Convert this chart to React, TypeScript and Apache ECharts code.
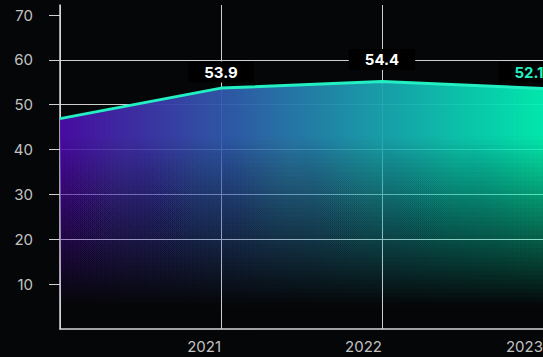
import React, { useEffect, useRef } from "react";
import * as echarts from "echarts";

// ---- data ----
const YEARS = ["2020", "2021", "2022", "2023"];
const VALUES = [46.9, 53.7, 55.2, 53.6];
const POINT_LABELS = ["", "53.9", "54.4", "52.1"];
const Y_TICKS = [10, 20, 30, 40, 50, 60, 70];

const FONT = "Inter, 'Noto Sans', sans-serif";
const LINE_COLOR = "#22f0c2";
const GRID_COLOR = "#cfcfcf";
const LABEL_COLOR = "#c2c2c2";

// vertical fade of the area: stacked translucent layers, each filling from
// its own baseline up to the line (style only, same data for every layer)
function fadeLayers() {
  const start = 5;
  const end = 46;
  const top = 0.95;
  const target = (v: number) => Math.max(0, Math.min(top, (v - start) / 40));
  const layers: { origin: number; opacity: number }[] = [];
  let prev = 0;
  for (let o = start; o <= end; o += 1) {
    const T = o === end ? top : target(o + 0.5);
    const a = 1 - (1 - T) / (1 - prev);
    layers.push({ origin: o, opacity: a });
    prev = T;
  }
  return layers;
}

export default function App() {
  const ref = useRef<HTMLDivElement>(null);

  useEffect(() => {
    if (!ref.current) return;
    const chart = echarts.init(ref.current, null, { renderer: "svg" });

    const areaGradient = new echarts.graphic.LinearGradient(0, 0, 1, 0, [
      { offset: 0, color: "#4a0ca8" },
      { offset: 1, color: "#00f2b4" },
    ]);

    const layerSeries = fadeLayers().map((l) => ({
      type: "line",
      data: VALUES,
      symbol: "none",
      showSymbol: false,
      silent: true,
      z: 2,
      lineStyle: { width: 0, opacity: 0 },
      areaStyle: { origin: l.origin, color: areaGradient, opacity: l.opacity },
      emphasis: { disabled: true },
    }));

    const lineSeries = {
      type: "line",
      z: 5,
      symbol: "circle",
      symbolSize: 1,
      showSymbol: true,
      itemStyle: { color: "rgba(0,0,0,0)", borderWidth: 0 },
      lineStyle: { color: LINE_COLOR, width: 3 },
      label: {
        show: true,
        position: "top",
        distance: 5,
        backgroundColor: "#000000",
        padding: [3, 16],
        fontFamily: FONT,
        fontSize: 15,
        fontWeight: 700,
        lineHeight: 15,
        color: "#ffffff",
      },
      data: VALUES.map((v, i) => ({
        value: v,
        label: {
          show: POINT_LABELS[i] !== "",
          formatter: POINT_LABELS[i],
          color: i === VALUES.length - 1 ? LINE_COLOR : "#ffffff",
          offset: i === 2 ? [0, -6] : i === 3 ? [-14, 0] : [0, 0],
        },
      })),
    };

    chart.setOption({
      animation: false,
      backgroundColor: "#050608",
      grid: { left: 60, right: 0, top: 5, bottom: 28, outerBoundsMode: "none" },
      xAxis: {
        type: "category",
        data: YEARS,
        boundaryGap: false,
        axisLine: { show: true, lineStyle: { color: "#d6d6d6", width: 1.5 } },
        axisTick: { show: false },
        axisLabel: {
          align: "right",
          color: LABEL_COLOR,
          fontFamily: FONT,
          fontSize: 15,
          margin: 10,
          formatter: (v: string, i: number) => (i === 0 ? "" : v),
        },
        splitLine: { show: true, lineStyle: { color: GRID_COLOR, width: 1 } },
      },
      yAxis: {
        type: "value",
        min: 0,
        max: 72.23,
        interval: 10,
        axisLine: { show: true, lineStyle: { color: "#d6d6d6", width: 1.5 } },
        axisTick: {
          show: true,
          length: 11,
          inside: false,
          customValues: Y_TICKS,
          lineStyle: { color: GRID_COLOR, width: 1 },
        },
        axisLabel: {
          customValues: Y_TICKS,
          margin: 27,
          color: LABEL_COLOR,
          fontFamily: FONT,
          fontSize: 15,
        },
        splitLine: {
          show: true,
          showMinLine: false,
          showMaxLine: false,
          lineStyle: { color: GRID_COLOR, width: 1 },
        },
      },
      series: [...layerSeries, lineSeries],
    });

    return () => chart.dispose();
  }, []);

  return (
    <div
      ref={ref}
      style={{ position: "fixed", left: 0, top: 0, width: 543, height: 357 }}
    />
  );
}
